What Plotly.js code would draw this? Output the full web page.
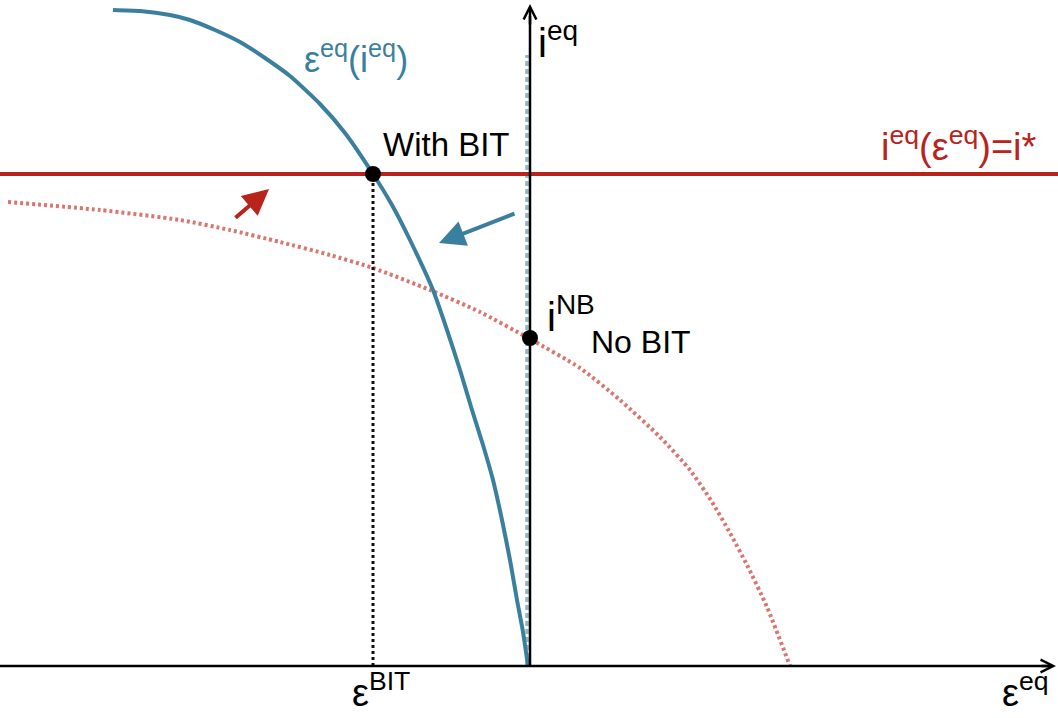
<!DOCTYPE html>
<html>
<head>
<meta charset="utf-8">
<script src="https://cdn.plot.ly/plotly-3.0.1.min.js"></script>
<style>
  html, body { margin: 0; padding: 0; background: #fff; }
  #chart { width: 1058px; height: 718px; }
</style>
</head>
<body>
<div id="chart"></div>
<script>
// units: x from the left edge, y up from the horizontal axis
var blueX = [113, 140, 170, 190, 215, 240, 265, 290, 320, 345, 373, 392, 410, 433, 447, 460, 472, 483, 493, 502, 510, 517, 523, 528];
var blueY = [656, 655, 651, 646, 636, 624, 608, 590, 562, 533, 492, 461, 426, 376, 336, 296, 256, 221, 186, 146, 106, 66, 34, 0];

var redDotX = [8, 100, 180, 230, 280, 330, 373, 430, 480, 530, 580, 620, 660, 690, 712, 730, 747, 767, 790];
var redDotY = [464, 456, 446, 436, 424, 411, 398, 376, 354, 327, 298, 266, 229, 196, 164, 133, 101, 59, 0];

var iStar = 492;          // i* level of the red line
var iNB = 328;            // no-BIT equilibrium
var epsBIT = 373;         // with-BIT equilibrium
var epsNB = 530;          // vertical axis / no-BIT position
var blueDashTop = 611;

var BLUE = '#3b7f9f';
var BLUE_LIGHT = '#8fb6ca';
var RED = '#b8231b';
var RED_LIGHT = '#d8766f';
var FONT = 'Liberation Sans, Arial, sans-serif';

var traces = [
    {   // no-BIT blue line sitting on the axis
        x: [epsNB - 3, epsNB - 3], y: [0, blueDashTop],
        mode: 'lines', line: { color: BLUE_LIGHT, width: 3.5, dash: '5px,3px' }
    },
    {
        x: [0, 1058], y: [iStar, iStar],
        mode: 'lines', line: { color: RED, width: 4 }
    },
    {
        x: redDotX, y: redDotY,
        mode: 'lines', line: { color: RED_LIGHT, width: 4, dash: '3px,3px', shape: 'spline', smoothing: 0.6 }
    },
    {
        x: blueX, y: blueY,
        mode: 'lines', line: { color: BLUE, width: 4, shape: 'spline', smoothing: 0.6 }
    },
    {
        x: [epsBIT, epsBIT], y: [0, iStar],
        mode: 'lines', line: { color: '#111', width: 3, dash: '3px,3px' }
    },
    {
        x: [epsNB, epsNB], y: [0, 650],
        mode: 'lines', line: { color: '#000', width: 2.5 }
    },
    {
        x: [0, 1050], y: [0, 0],
        mode: 'lines', line: { color: '#000', width: 2.5 }
    },
    {
        x: [epsBIT, epsNB], y: [iStar, iNB],
        mode: 'markers', marker: { color: '#000', size: 16 }
    }
];

function label(x, y, text, size, color, xanchor) {
    return {
        x: x, y: y, xref: 'x', yref: 'y', text: text, showarrow: false,
        xanchor: xanchor || 'left', yanchor: 'middle',
        font: { family: FONT, size: size, color: color || '#000' }
    };
}

function arrow(x0, y0, x1, y1, color, width, head, size) {
    return {
        x: x1, y: y1, ax: x0, ay: y0, xref: 'x', yref: 'y', axref: 'x', ayref: 'y',
        text: '', showarrow: true, arrowcolor: color, arrowwidth: width,
        arrowhead: head, arrowsize: size || 1, standoff: 0, startstandoff: 0
    };
}

var annotations = [
    arrow(epsNB, 640, epsNB, 662, '#000', 2.5, 5),
    arrow(1040, 0, 1056, 0, '#000', 2.5, 5),
    arrow(234, 447, 269, 477, RED, 4, 2, 1.3),
    arrow(516, 453, 439, 423, BLUE, 4, 2, 1.3),
    label(302, 609, 'ε<sup>eq</sup>(i<sup>eq</sup>)', 36, BLUE),
    label(381, 522, 'With BIT', 33),
    label(536, 626, 'i<sup>eq</sup>', 40),
    label(1039, 522, 'i<sup>eq</sup>(ε<sup>eq</sup>)=i*', 38, RED, 'right'),
    label(545, 352, 'i<sup>NB</sup>', 40),
    label(589, 324, 'No BIT', 32),
    label(350, -24, 'ε<sup>BIT</sup>', 38),
    label(1000, -24, 'ε<sup>eq</sup>', 38)
];

var layout = {
    width: 1058, height: 718,
    margin: { l: 0, r: 0, t: 0, b: 0 },
    xaxis: { range: [0, 1058], visible: false, fixedrange: true },
    yaxis: { range: [-52, 666], visible: false, fixedrange: true },
    showlegend: false,
    annotations: annotations,
    plot_bgcolor: '#fff',
    paper_bgcolor: '#fff'
};

Plotly.newPlot('chart', traces, layout, { displayModeBar: false, staticPlot: true });
</script>
</body>
</html>
